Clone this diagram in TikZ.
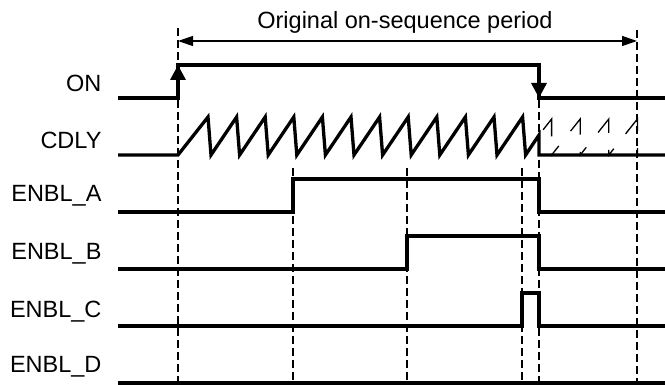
\documentclass[tikz,border=0pt]{standalone}
\usepackage{fontspec}
\setmainfont{Liberation Sans}
\usetikzlibrary{arrows.meta}
\begin{document}
\begin{tikzpicture}[x=1pt,y=-1pt,
    sig/.style={line width=3.3pt,line join=miter},
    guide/.style={line width=1.3pt,dash pattern=on 8pt off 4pt},
    lbl/.style={anchor=base east,font=\fontsize{23.5}{28}\selectfont}]
  \useasboundingbox (0,0) rectangle (665,385);
  % guide lines
  \foreach \x/\top in {178/28, 293/168, 407/168, 522/168, 539/100, 637/30} {
    \draw[guide] (\x,\top) -- (\x,385);
  }
  % period
  \draw[line width=1.3pt,{Triangle[length=15pt,width=10pt]}-{Triangle[length=15pt,width=10pt]}]
    (178,41) -- (637,41);
  \node[lbl,anchor=base] (period) at (405,29) {Original on-sequence period};
  % signal names
  \foreach \y/\name [count=\i] in {92/ON, 149/CDLY, 202/ENBL\_A, 260/ENBL\_B,
      318/ENBL\_C, 372/ENBL\_D} {
    \node[lbl] (sig\i) at (105,\y) {\name};
  }
  % ON
  \draw[sig] (118,98) -- (178,98) -- (178,65) -- (539,65) -- (539,98) -- (665,98);
  \draw[line width=3.3pt,-{Triangle[length=15pt,width=15pt]}] (178,98) -- (178,65);
  \draw[line width=3.3pt,-{Triangle[length=15pt,width=15pt]}] (539,65) -- (539,98);
  % CDLY
  \draw[sig] (118,155) -- (178,155)
    foreach \k in {0,...,11} { -- ({208+28.6*\k},117) -- ({211+28.6*\k},155) }
    -- (539,135) -- (539,155) -- (665,155);
  \draw[line width=1.3pt,dash pattern=on 13pt off 19pt on 31pt off 17.2pt,dash phase=25.3pt]
    (539,135) foreach \p in {551.6,580.2,608.8,637.4} { -- (\p,119) -- (\p,155) };
  % ENBL_A .. ENBL_C
  \foreach \y/\up in {212/293, 269/407, 326/522} {
    \draw[sig] (118,\y) -- (\up,\y) -- (\up,{\y-33}) -- (539,{\y-33}) -- (539,\y) -- (665,\y);
  }
  % ENBL_D
  \draw[sig] (118,383) -- (665,383);
\end{tikzpicture}
\end{document}
